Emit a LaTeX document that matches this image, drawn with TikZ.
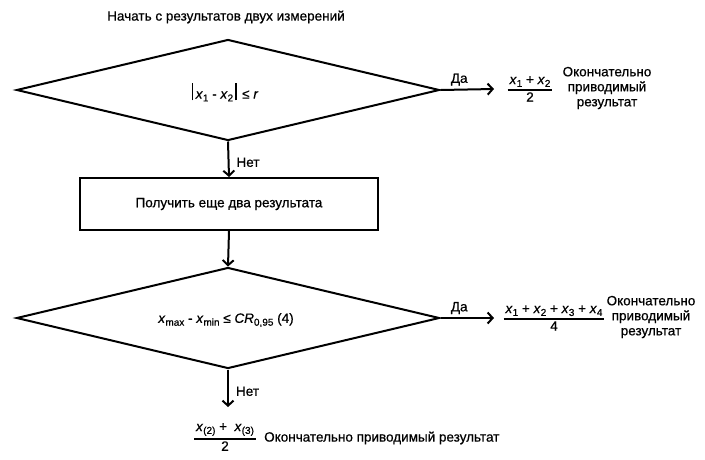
\documentclass[tikz,border=0pt]{standalone}
\usepackage{fontspec}
\setmainfont{Liberation Sans}[FakeBold=0.6]
\usetikzlibrary{shapes.geometric,arrows.meta}
\newcommand{\lo}[1]{\raisebox{-0.4ex}{\fontsize{10}{10}\selectfont #1}}
\newcommand{\vx}{\textit{x}}
\newcommand{\myfrac}[2]{$\textstyle{\hbox{\kern2pt#1\kern2pt}\above 1.8pt\hbox{#2}}$}
\newcommand{\absbar}{\raisebox{-0.25ex}{\rule{1.8pt}{2.5ex}}}
\begin{document}
\begin{tikzpicture}[x=1pt,y=-1pt,
  every node/.style={font=\fontsize{13.5}{15}\selectfont, inner sep=1pt},
  dia/.style={draw, shape=diamond, line width=2pt, inner sep=0pt, minimum width=423pt, minimum height=101pt},
  procbox/.style={draw, rectangle, line width=2pt, minimum width=298pt, minimum height=52pt},
  arr/.style={line width=2pt, -{Straight Barb[length=5pt,width=11pt]}},
  lbl/.style={font=\fontsize{13.5}{15}\selectfont}
]
\useasboundingbox (0,0) rectangle (705,459);
\node (title) at (226,17) {Начать с результатов двух измерений};
\node[dia] (d1) at (228,90) {};
\node (c1) at (225,92) {\absbar\,\vx\lo{1} - \vx\lo{2}\,\absbar\hspace{5pt}≤ \textit{r}};
\node[procbox] (box) at (229,204) {Получить еще два результата};
\node[dia] (d2) at (228,318) {};
\node (c2) at (226,320) {\vx\lo{max} - \vx\lo{min} ≤ \textit{CR}\lo{0,95} (4)};
\coordinate (e1) at (494,89);
\coordinate (e2) at (494,318);
\coordinate (e3) at (228,407);
\draw[arr] (d1.east) -- (e1) node[midway, above=2pt, xshift=-8pt, lbl] {Да};
\draw[arr] (d2.east) -- (e2) node[midway, above=2pt, xshift=-8pt, lbl] {Да};
\draw[arr] (d1.south) -- (box.north) node[midway, right=6pt, yshift=-3pt, lbl] {Нет};
\draw[arr] (box.south) -- (d2.north);
\draw[arr] (d2.south) -- (e3) node[midway, right=6pt, yshift=-3pt, lbl] {Нет};
\node (f1) at (530,89) {\myfrac{\vx\lo{1} + \vx\lo{2}}{2}};
\node[align=center] (t1) at (607,88) {Окончательно\\приводимый\\результат};
\node (f2) at (554,318) {\myfrac{\vx\lo{1} + \vx\lo{2} + \vx\lo{3} + \vx\lo{4}}{4}};
\node[align=center] (t2) at (651,317) {Окончательно\\приводимый\\результат};
\node (f3) at (225,437) {\myfrac{\vx\lo{(2)} + \ \vx\lo{(3)}}{2}};
\node[anchor=west] (t3) at (263,438) {Окончательно приводимый результат};
\end{tikzpicture}
\end{document}
